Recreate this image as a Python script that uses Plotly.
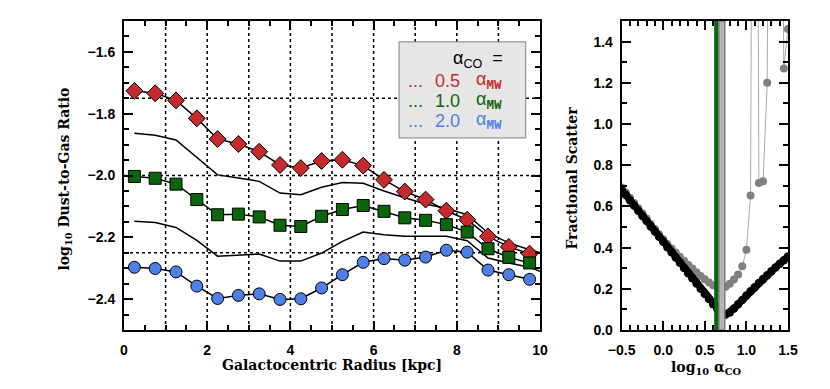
import plotly.graph_objects as go

# ---- left panel: dust-to-gas ratio vs radius ----
radius = [0.25, 0.75, 1.25, 1.75, 2.25, 2.75, 3.25, 3.75, 4.25, 4.75,
          5.25, 5.75, 6.25, 6.75, 7.25, 7.75, 8.25, 8.75, 9.25, 9.75]
dgr_05 = [-1.726, -1.734, -1.757, -1.815, -1.882, -1.898, -1.923, -1.966, -1.976, -1.953,
          -1.949, -1.968, -2.014, -2.052, -2.078, -2.114, -2.143, -2.197, -2.231, -2.253]
dgr_10 = [-2.003, -2.009, -2.028, -2.078, -2.127, -2.125, -2.134, -2.161, -2.165, -2.132,
          -2.110, -2.097, -2.116, -2.137, -2.145, -2.159, -2.183, -2.237, -2.265, -2.283]
dgr_20 = [-2.297, -2.301, -2.312, -2.358, -2.398, -2.388, -2.383, -2.401, -2.399, -2.364,
          -2.321, -2.281, -2.269, -2.274, -2.264, -2.242, -2.248, -2.306, -2.321, -2.336]

radius_thin = radius + [10.0]
dgr_thin_hi = [-1.863, -1.870, -1.885, -1.940, -1.998, -2.008, -2.019, -2.057, -2.062, -2.038,
               -2.023, -2.025, -2.050, -2.072, -2.092, -2.107, -2.127, -2.186, -2.218, -2.240, -2.250]
dgr_thin_lo = [-2.148, -2.152, -2.168, -2.210, -2.261, -2.258, -2.254, -2.277, -2.277, -2.251,
               -2.213, -2.183, -2.192, -2.197, -2.197, -2.197, -2.211, -2.267, -2.283, -2.297, -2.310]

grid_x = [1, 2, 3, 4, 5, 6, 7, 8, 9]
grid_y = [-1.75, -2.0, -2.25]

# ---- right panel: scatter vs alpha_CO ----
log_aco = [-0.50, -0.45, -0.40, -0.35, -0.30, -0.25, -0.20, -0.15, -0.10, -0.05,
           0.00, 0.05, 0.10, 0.15, 0.20, 0.25, 0.30, 0.35, 0.40, 0.45,
           0.50, 0.55, 0.60, 0.65, 0.70, 0.75, 0.80, 0.85, 0.90, 0.95,
           1.00, 1.05, 1.10, 1.15, 1.20, 1.25, 1.30, 1.35, 1.40, 1.45, 1.50]
scatter_all = [0.680, 0.655, 0.630, 0.604, 0.579, 0.554, 0.529, 0.503, 0.478, 0.453,
               0.428, 0.402, 0.377, 0.352, 0.327, 0.301, 0.276, 0.251, 0.226, 0.200,
               0.175, 0.150, 0.125, 0.102, 0.083, 0.075, 0.085, 0.104, 0.125, 0.146,
               0.167, 0.188, 0.208, 0.228, 0.247, 0.266, 0.285, 0.303, 0.321, 0.339, 0.357]
scatter_sub = [0.692, 0.667, 0.642, 0.616, 0.591, 0.566, 0.541, 0.515, 0.490, 0.465,
               0.440, 0.417, 0.396, 0.376, 0.356, 0.336, 0.317, 0.298, 0.280, 0.262,
               0.246, 0.231, 0.217, 0.208, 0.205, 0.210, 0.225, 0.245, 0.270, 0.309,
               0.389, 0.653, 6.000, 0.714, 0.722, 1.200, 5.000, 4.000, 4.000, 1.269, 1.461]
aco_mw = 0.636
aco_best = [0.668, 0.740]

RED, GREEN, BLUE = "#c62a2a", "#0b660b", "#4d7fe6"
TICKFONT = dict(family="Liberation Sans", size=14, color="black", weight="bold")
TITLEFONT = dict(family="DejaVu Serif", size=14, color="black", weight="bold")

fig = go.Figure()

for y in (dgr_thin_hi, dgr_thin_lo):
    fig.add_trace(go.Scatter(x=radius_thin, y=y, mode="lines",
                             line=dict(color="black", width=1.5), showlegend=False))

for y, color, symbol, size in ((dgr_05, RED, "diamond", 13),
                               (dgr_10, GREEN, "square", 12),
                               (dgr_20, BLUE, "circle", 12)):
    fig.add_trace(go.Scatter(
        x=radius, y=y, mode="lines+markers",
        line=dict(color="black", width=1.5),
        marker=dict(symbol=symbol, size=size, color=color, line=dict(color="black", width=1)),
        cliponaxis=False, showlegend=False))

fig.add_trace(go.Scatter(
    x=log_aco, y=scatter_sub, mode="lines+markers", xaxis="x2", yaxis="y2",
    line=dict(color="#a8a8a8", width=1),
    marker=dict(size=8, color="#808080"), showlegend=False))
fig.add_trace(go.Scatter(
    x=log_aco, y=scatter_all, mode="lines+markers", xaxis="x2", yaxis="y2",
    line=dict(color="black", width=7),
    marker=dict(size=8.5, color="black"), showlegend=False))

shapes = []
for gx in grid_x:
    shapes.append(dict(type="line", xref="x", yref="y", x0=gx, x1=gx, y0=-2.5, y1=-1.5,
                       line=dict(color="black", width=1.5, dash="dot"), layer="below"))
for gy in grid_y:
    shapes.append(dict(type="line", xref="x", yref="y", x0=0, x1=10, y0=gy, y1=gy,
                       line=dict(color="black", width=1.5, dash="dot"), layer="below"))
shapes.append(dict(type="rect", xref="x2", yref="y2", x0=aco_best[0], x1=aco_best[1], y0=0, y1=1.5,
                   fillcolor="#b4b4b4", line=dict(color="#7a7a7a", width=1.5), layer="above"))
shapes.append(dict(type="line", xref="x2", yref="y2", x0=aco_mw, x1=aco_mw, y0=0, y1=1.5,
                   line=dict(color=GREEN, width=4), layer="above"))
# legend box
shapes.append(dict(type="rect", xref="paper", yref="paper", x0=0.4142, x1=0.605, y0=0.6215, y1=0.9325,
                   fillcolor="#e6e6e6", line=dict(color="#808080", width=1), layer="above"))

ann = []
LEGFONT = dict(family="Liberation Sans", size=18)
SUB = "<sub><span style=\"font-family:'Liberation Mono';font-weight:bold\">MW</span></sub>"
ann.append(dict(x=0.4925, y=0.877, text="α<sub>CO</sub>  =", font=dict(LEGFONT, color="black")))
for i, (num, color) in enumerate((("0.5", RED), ("1.0", GREEN), ("2.0", BLUE))):
    yp = 0.805 - i * 0.0645
    ann.append(dict(x=0.4245, y=yp, text="...", font=dict(LEGFONT, color=color)))
    ann.append(dict(x=0.4655, y=yp, text=num, font=dict(LEGFONT, color=color)))
    ann.append(dict(x=0.5265, y=yp, text="α" + SUB, font=dict(LEGFONT, color=color)))
for a in ann:
    a.update(xref="paper", yref="paper", xanchor="left", yanchor="middle", showarrow=False)

titles = [
    dict(x=-0.0889, y=0.49, text="log<sub>10</sub> Dust-to-Gas Ratio", textangle=-90),
    dict(x=0.3133, y=-0.112, text="Galactocentric Radius [kpc]"),
    dict(x=0.6747, y=0.49, text="Fractional Scatter", textangle=-90),
    dict(x=0.878, y=-0.122, text="log<sub>10</sub> α<sub>CO</sub>"),
]
for t in titles:
    t.update(xref="paper", yref="paper", xanchor="center", yanchor="middle",
             showarrow=False, font=TITLEFONT)
    ann.append(t)

axis_common = dict(showline=True, linecolor="black", linewidth=2, mirror="allticks",
                   ticks="inside", ticklen=9, tickwidth=1.5, tickcolor="black",
                   showgrid=False, zeroline=False, tickfont=TICKFONT)

# the page puts the plot 8px in from the top-left corner, so margins are offset by 8
fig.update_layout(
    width=830, height=389,
    margin=dict(l=116, r=50, t=11, b=67),
    paper_bgcolor="white", plot_bgcolor="white",
    xaxis=dict(axis_common, domain=[0, 0.6265], range=[0, 10], dtick=2, tick0=0,
               ticklabelstandoff=6,
               minor=dict(dtick=0.5, ticks="inside", ticklen=5, tickwidth=1.5, tickcolor="black")),
    yaxis=dict(axis_common, range=[-2.5, -1.5], dtick=0.2, tick0=-1.6, tickformat=".1f",
               ticklabelstandoff=4,
               minor=dict(dtick=0.05, ticks="inside", ticklen=5, tickwidth=1.5, tickcolor="black")),
    xaxis2=dict(axis_common, domain=[0.7495, 1.0], anchor="y2", range=[-0.5, 1.5], dtick=0.5,
                tick0=0, tickformat=".1f", ticklabelstandoff=6,
                minor=dict(dtick=0.1, ticks="inside", ticklen=5, tickwidth=1.5, tickcolor="black")),
    yaxis2=dict(axis_common, anchor="x2", range=[0, 1.5], dtick=0.2, tick0=0, tickformat=".1f",
                ticklabelstandoff=4,
                minor=dict(dtick=0.1, ticks="inside", ticklen=5, tickwidth=1.5, tickcolor="black")),
    shapes=shapes,
    annotations=ann,
)

fig.write_html("out.html")
